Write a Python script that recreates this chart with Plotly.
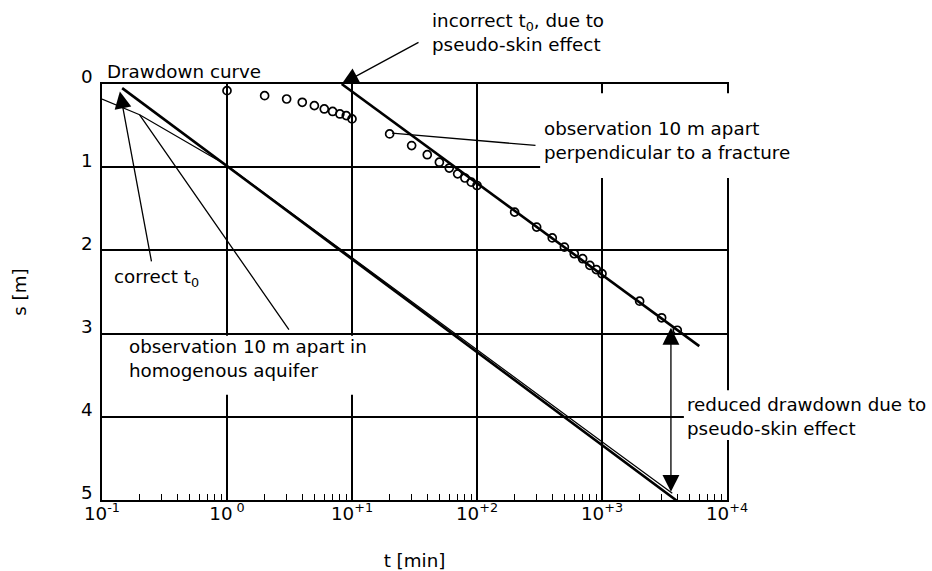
import numpy as np
import plotly.graph_objects as go

# Observation well 10 m away, perpendicular to a fracture (measured drawdown)
obs_t = [1, 2, 3, 4, 5, 6, 7, 8, 9, 10,
         20, 30, 40, 50, 60, 70, 80, 90, 100,
         200, 300, 400, 500, 600, 700, 800, 900, 1000,
         2000, 3000, 4000]
obs_s = [0.08, 0.14, 0.18, 0.22, 0.26, 0.30, 0.33, 0.36, 0.38, 0.42,
         0.60, 0.74, 0.85, 0.94, 1.01, 1.08, 1.13, 1.18, 1.22,
         1.54, 1.72, 1.85, 1.96, 2.04, 2.10, 2.18, 2.23, 2.28,
         2.61, 2.81, 2.96]

# Straight line through the late data -> incorrect t0 (pseudo-skin effect)
fracture_fit_t = [8.27, 6000]
fracture_fit_s = [0.0, 3.15]

# Straight line of the homogeneous aquifer -> correct t0
homog_fit_t = [0.145, 4500]
homog_fit_s = [0.05, 5.07]

# Drawdown curve, observation 10 m away in a homogeneous aquifer
homog_curve_t = [0.1, 0.2, 1, 10, 100, 1000, 3650]
homog_curve_s = [0.18, 0.37, 0.98, 2.09, 3.19, 4.30, 4.92]

# Reduced drawdown due to the pseudo-skin effect (at t = 3560 min)
skin_t = 3560
skin_s_top = 2.93
skin_s_bottom = 4.92

x_tick_vals = [0.1, 1, 10, 100, 1000, 10000]
x_tick_text = ["10<sup>-1</sup>", "10<sup> 0</sup>", "10<sup>+1</sup>",
               "10<sup>+2</sup>", "10<sup>+3</sup>", "10<sup>+4</sup>"]
x_minor_vals = [m * d for d in [0.1, 1, 10, 100, 1000] for m in range(2, 10)]
y_tick_vals = [0, 1, 2, 3, 4, 5]

FONT = "DejaVu Sans"
FS = 18.3
INK = "black"


def lg(t):
    return float(np.log10(t))


fig = go.Figure()

fig.add_trace(go.Scatter(
    x=homog_curve_t, y=homog_curve_s, mode="lines",
    line=dict(color=INK, width=1.2), hoverinfo="skip", showlegend=False))
fig.add_trace(go.Scatter(
    x=homog_fit_t, y=homog_fit_s, mode="lines",
    line=dict(color=INK, width=2.6), hoverinfo="skip", showlegend=False))
fig.add_trace(go.Scatter(
    x=fracture_fit_t, y=fracture_fit_s, mode="lines",
    line=dict(color=INK, width=2.6), hoverinfo="skip", showlegend=False))
fig.add_trace(go.Scatter(
    x=obs_t, y=obs_s, mode="markers",
    marker=dict(symbol="circle-open", size=8, color=INK, line=dict(width=1.7)),
    hoverinfo="skip", showlegend=False))

# white boxes behind the labels that sit on the grid (fractions of plot area)
masks = [
    (0.701, 1.25, 0.774, 0.978),
    (0.013, 0.438, 0.253, 0.395),
    (0.931, 1.30, 0.144, 0.264),
]
for x0, x1, y0, y1 in masks:
    fig.add_shape(type="rect", xref="paper", yref="paper",
                  x0=x0, x1=x1, y0=y0, y1=y1,
                  fillcolor="white", line=dict(width=0), layer="above")

# labels inside the grid (data coordinates)
labels = [
    (329.6, 0.684, "observation 10 m apart<br>perpendicular to a fracture"),
    (0.1196, 2.33, "correct t<sub>0</sub>"),
    (0.1577, 3.30, "observation 10 m apart in<br>homogenous aquifer"),
    (4613, 4.0, "reduced drawdown due to<br>pseudo-skin effect"),
]
for t, s, txt in labels:
    fig.add_annotation(x=lg(t), y=s, xref="x", yref="y", text=txt,
                       showarrow=False, xanchor="left", yanchor="middle",
                       align="left", font=dict(family=FONT, size=FS, color=INK))

# labels above the grid (fractions of the plotting area)
top_labels = [
    (0.005, 1.029, "Drawdown curve"),
    (0.525, 1.125, "incorrect t<sub>0</sub>, due to<br>pseudo-skin effect"),
]
for px, py, txt in top_labels:
    fig.add_annotation(x=px, y=py, xref="paper", yref="paper", text=txt,
                       showarrow=False, xanchor="left", yanchor="middle",
                       align="left", font=dict(family=FONT, size=FS, color=INK))

# pointers: (tip t, tip s, tail t, tail s, head style, sides)
pointers = [
    (0.139, 0.09, 0.25, 2.15, 2, "end"),
    (0.2, 0.37, 3.19, 2.97, 0, "end"),
    (fracture_fit_t[0], fracture_fit_s[0], 35.0, -0.51, 2, "end"),
    (20.9, 0.59, 302, 0.74, 0, "end"),
    (skin_t, skin_s_top, skin_t, skin_s_bottom, 2, "end+start"),
]
for tt, ts, at, as_, head, side in pointers:
    fig.add_annotation(x=lg(tt), y=ts, ax=lg(at), ay=as_,
                       xref="x", yref="y", axref="x", ayref="y",
                       text="", showarrow=True, arrowhead=head, arrowside=side,
                       arrowsize=2.6, arrowwidth=1.3, arrowcolor=INK, standoff=0)

fig.update_xaxes(
    type="log", range=[-1, 4],
    tickmode="array", tickvals=x_tick_vals, ticktext=x_tick_text, ticks="",
    showgrid=True, gridcolor=INK, gridwidth=1.5,
    showline=True, linecolor=INK, linewidth=1.5, mirror=True,
    minor=dict(tickmode="array", tickvals=x_minor_vals, ticks="inside",
               ticklen=6, tickcolor=INK, tickwidth=1.2, showgrid=False),
    tickfont=dict(family=FONT, size=FS, color=INK),
    ticklabelstandoff=-4,
    title=dict(text="t [min]", font=dict(family=FONT, size=FS, color=INK),
               standoff=33),
    zeroline=False,
)
fig.update_yaxes(
    range=[5, 0], tickmode="array", tickvals=y_tick_vals, ticks="",
    showgrid=True, gridcolor=INK, gridwidth=1.5,
    showline=True, linecolor=INK, linewidth=1.5, mirror=True,
    tickfont=dict(family=FONT, size=FS, color=INK),
    ticklabelshift=7, ticklabelstandoff=4,
    title=dict(text="s [m]", font=dict(family=FONT, size=FS, color=INK),
               standoff=50),
    zeroline=False,
)
fig.update_layout(
    width=932, height=571,
    margin=dict(l=102, r=205, t=84, b=71, autoexpand=False),
    paper_bgcolor="white", plot_bgcolor="white",
    font=dict(family=FONT, size=FS, color=INK),
)

fig.write_html("out.html")
